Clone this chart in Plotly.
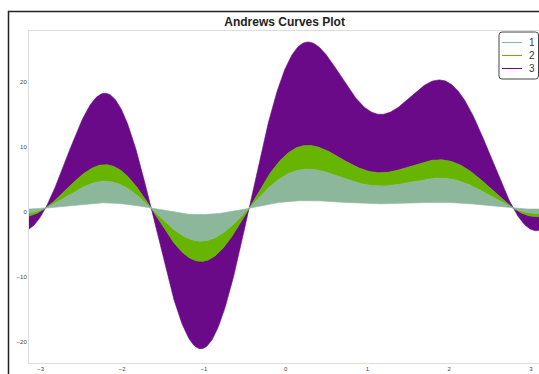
import numpy as np
import plotly.graph_objects as go

# Feature rows bounding each class (9 features per row)
class_labels = ["1", "2", "3"]
class_low_rows = [
    [1.40, 0.50, 0.06, 0.45, 0.06, 0.00, 0.51, -0.02, 0.01],
    [3.48, 2.57, 0.31, 2.30, 0.29, 0.02, 2.61, -0.08, 0.05],
    [5.05, 4.13, 0.49, 3.70, 0.47, 0.03, 4.21, -0.13, 0.08],
]
class_high_rows = [
    [3.48, 2.57, 0.31, 2.30, 0.29, 0.02, 2.61, -0.08, 0.05],
    [5.05, 4.13, 0.49, 3.70, 0.47, 0.03, 4.21, -0.13, 0.08],
    [11.90, 10.93, 1.30, 9.78, 1.23, 0.08, 11.13, -0.33, 0.21],
]
class_colors = ["#8cb79b", "#67b500", "#6a0a88"]

x_ticks = [-3, -2, -1, 0, 1, 2, 3]
y_ticks = [-20, -10, 0, 10, 20]

t = np.linspace(-np.pi, np.pi, 600)


def andrews(row, t):
    """f(t) = x1/sqrt(2) + x2 sin t + x3 cos t + x4 sin 2t + x5 cos 2t + ..."""
    out = np.full_like(t, row[0] / np.sqrt(2))
    for i, v in enumerate(row[1:]):
        k = i // 2 + 1
        out += v * (np.sin(k * t) if i % 2 == 0 else np.cos(k * t))
    return out


fig = go.Figure()

# bands: outer class first so the inner classes sit on top
for idx in [2, 1, 0]:
    col = class_colors[idx]
    fig.add_trace(go.Scatter(
        x=t, y=andrews(class_low_rows[idx], t), mode="lines",
        line=dict(color=col, width=0.6), showlegend=False, hoverinfo="skip"))
    fig.add_trace(go.Scatter(
        x=t, y=andrews(class_high_rows[idx], t), mode="lines",
        line=dict(color=col, width=0.6), fill="tonexty", fillcolor=col,
        showlegend=False, hoverinfo="skip"))

# compact legend box in the upper right corner (paper coordinates)
W, H = 510.0, 332.0          # plot area size in px
def px(x):
    return (x - 29) / W
def py(y):
    return (363 - y) / H

bx0, bx1, by0, by1 = px(499), px(538.5), py(79), py(32)
rx, ry = 3 / W, 3 / H
box_path = (
    f"M {bx0 + rx},{by1} L {bx1 - rx},{by1} Q {bx1},{by1} {bx1},{by1 - ry} "
    f"L {bx1},{by0 + ry} Q {bx1},{by0} {bx1 - rx},{by0} "
    f"L {bx0 + rx},{by0} Q {bx0},{by0} {bx0},{by0 + ry} "
    f"L {bx0},{by1 - ry} Q {bx0},{by1} {bx0 + rx},{by1} Z"
)
shapes = [
    # figure frame
    dict(type="rect", xref="paper", yref="paper",
         x0=px(8.5), x1=1.2, y0=-0.2, y1=py(11.5),
         line=dict(color="#222222", width=1.5), fillcolor="rgba(0,0,0,0)"),
    dict(type="path", xref="paper", yref="paper", path=box_path,
         line=dict(color="#444444", width=1), fillcolor="white"),
]
annotations = []
for idx, lab in enumerate(class_labels):
    yy = py(42.5 + 13 * idx)
    shapes.append(dict(type="line", xref="paper", yref="paper",
                       x0=px(502), x1=px(522), y0=yy, y1=yy,
                       line=dict(color=class_colors[idx], width=1)))
    annotations.append(dict(text=lab, xref="paper", yref="paper",
                            x=px(532), y=yy, xanchor="center", yanchor="middle",
                            showarrow=False,
                            font=dict(size=10, color="#333333",
                                      family="Liberation Sans, Arial")))

fig.update_layout(
    width=539, height=374,
    margin=dict(l=29, r=0, t=31, b=11),
    paper_bgcolor="white", plot_bgcolor="white",
    title=dict(text="<b>Andrews Curves Plot</b>", x=0.528, xanchor="center",
               y=1 - 21.7 / 374, yanchor="middle",
               font=dict(family="Liberation Sans, Arial", size=12, color="#222222")),
    font=dict(family="Liberation Sans, Arial", color="#444444"),
    showlegend=False,
    xaxis=dict(range=[-np.pi, 3.10], tickvals=x_ticks, ticks="",
               tickfont=dict(size=6, color="#444444"),
               showgrid=False, zeroline=False, showline=True,
               linecolor="#dddddd", linewidth=1, mirror=True),
    yaxis=dict(range=[-23.2, 27.9], tickvals=y_ticks, ticks="",
               tickfont=dict(size=6, color="#444444"),
               showgrid=False, zeroline=False, showline=True,
               linecolor="#dddddd", linewidth=1),
    shapes=shapes,
    annotations=annotations,
)

fig.write_html("out.html")
